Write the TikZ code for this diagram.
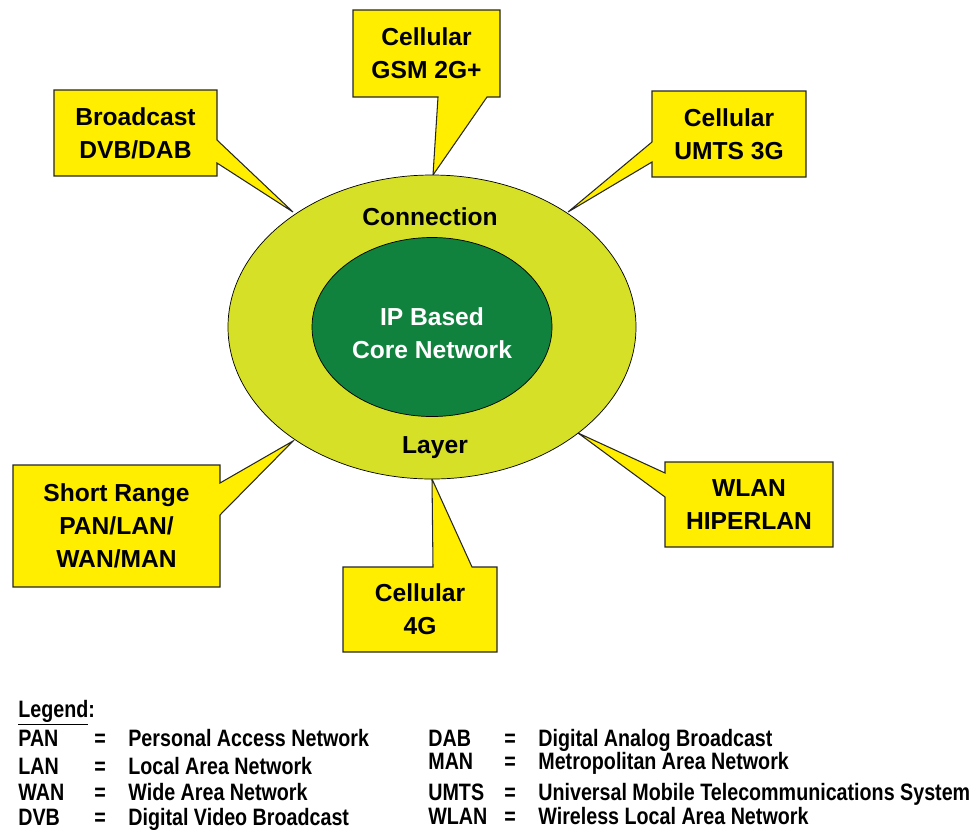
\documentclass[tikz,border=0pt]{standalone}
\usepackage{fontspec}
\setmainfont{Liberation Sans}
\newfontfamily\legendfont{Liberation Sans}[FakeStretch=0.83]
\usetikzlibrary{positioning,backgrounds,shapes.geometric}

\definecolor{boxyellow}{RGB}{255,238,0}
\definecolor{layergreen}{RGB}{214,224,38}
\definecolor{coregreen}{RGB}{16,130,62}

\begin{document}
\begin{tikzpicture}[
		x=0.2mm, y=-0.2mm,
		netbox/.style = {
			rectangle, inner sep=0pt, outer sep=0pt,
			align=center, font=\fontsize{14}{18.8}\selectfont\bfseries
		},
		callout/.style = {
			draw=black!85, fill=boxyellow, line width=0.6pt, line join=miter
		},
		legtext/.style = {
			anchor=base west, inner sep=0pt,
			font=\legendfont\fontsize{13.5}{16}\selectfont\bfseries
		}
		]
		\useasboundingbox (0,0) rectangle (977,829);
		% rings
		\node [ellipse, draw, fill=layergreen, minimum width=81.6mm, minimum height=60.8mm, inner sep=0pt] (layer) at (432,327) {};
		\node [ellipse, draw, fill=coregreen, minimum width=48mm, minimum height=35.8mm, inner sep=0pt] (core) at (432,327) {};
		\node [netbox, text=white] (coretext) at (432,333) {IP Based\\Core Network};
		\node [netbox] (conn) at (430,217) {Connection};
		\node [netbox] (lay) at (435,448) {Layer};
		% boxes
		\node [netbox, minimum width=32.6mm, minimum height=17.2mm] (bcast) at (135.5,133) {Broadcast\\DVB/DAB};
		\node [netbox, minimum width=29.4mm, minimum height=17.4mm] (gsm) at (426.5,53.5) {Cellular\\GSM 2G+};
		\node [netbox, minimum width=30.8mm, minimum height=17.2mm] (umts) at (729,134) {Cellular\\UMTS 3G};
		\node [netbox, minimum width=41.4mm, minimum height=24.4mm] (short) at (116.5,526) {Short Range\\PAN/LAN/\\WAN/MAN};
		\node [netbox, minimum width=30.8mm, minimum height=17mm] (cell4g) at (420,609.5) {Cellular\\4G};
		\node [netbox, minimum width=33.6mm, minimum height=17mm] (wlan) at (749,504.5) {WLAN\\HIPERLAN};
		% pointer tips on the layer ring
		\coordinate (tipB) at (293,212);
		\coordinate (tipG) at (433,175);
		\coordinate (tipU) at (568,212);
		\coordinate (tipS) at (293,441);
		\coordinate (tip4) at (432,479);
		\coordinate (tipW) at (578,433);
		\begin{scope}[on background layer]
			\draw[callout] (bcast.north west) -- (bcast.north east) -- (bcast.east |- 0,140) -- (tipB)
				-- (bcast.east |- 0,163) -- (bcast.south east) -- (bcast.south west) -- cycle;
			\draw[callout] (gsm.north west) -- (gsm.north east) -- (gsm.south east) -- (gsm.south -| 487,0)
				-- (tipG) -- (gsm.south -| 438,0) -- (gsm.south west) -- cycle;
			\draw[callout] (umts.north west) -- (umts.north east) -- (umts.south east) -- (umts.south west)
				-- (umts.west |- 0,162) -- (tipU) -- (umts.west |- 0,142) -- cycle;
			\draw[callout] (short.north west) -- (short.north east) -- (short.east |- 0,483) -- (tipS)
				-- (short.east |- 0,515) -- (short.south east) -- (short.south west) -- cycle;
			\draw[callout] (cell4g.north west) -- (cell4g.north -| 433,0) -- (tip4) -- (cell4g.north -| 472,0)
				-- (cell4g.north east) -- (cell4g.south east) -- (cell4g.south west) -- cycle;
			\draw[callout] (wlan.north west) -- (wlan.north east) -- (wlan.south east) -- (wlan.south west)
				-- (wlan.west |- 0,497) -- (tipW) -- (wlan.west |- 0,473) -- cycle;
		\end{scope}
		% legend
		\node [legtext] (leg) at (18,717) {\underline{Legend}:};
		\foreach \abbr/\full/\yy [count=\i] in {PAN/Personal Access Network/746, LAN/Local Area Network/774,
				WAN/Wide Area Network/800, DVB/Digital Video Broadcast/825} {
			\node [legtext] (la\i) at (18,\yy) {\abbr};
			\node [legtext, anchor=base] (le\i) at (100,\yy) {=};
			\node [legtext] (lf\i) at (128,\yy) {\full};
		}
		\foreach \abbr/\full/\yy [count=\i] in {DAB/Digital Analog Broadcast/746, MAN/Metropolitan Area Network/769,
				UMTS/Universal Mobile Telecommunications System/800, WLAN/Wireless Local Area Network/824} {
			\node [legtext] (ra\i) at (428,\yy) {\abbr};
			\node [legtext, anchor=base] (re\i) at (510,\yy) {=};
			\node [legtext] (rf\i) at (538,\yy) {\full};
		}
	\end{tikzpicture}
\end{document}
